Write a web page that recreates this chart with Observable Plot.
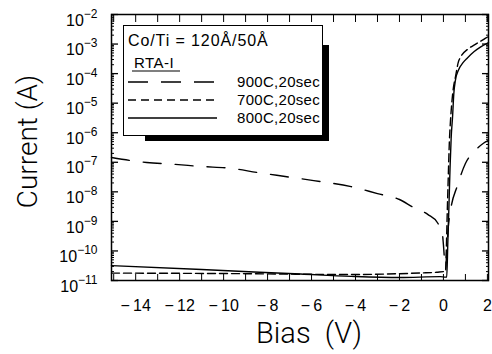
<!DOCTYPE html>
<html><head><meta charset="utf-8">
<script src="https://cdn.jsdelivr.net/npm/d3@7"></script>
<script src="https://cdn.jsdelivr.net/npm/@observablehq/plot@0.6"></script>
<style>
html,body{margin:0;padding:0;background:#fff;}
#wrap{position:relative;width:492px;height:354px;overflow:hidden;}
.sh{position:absolute;background:#000;}
#shR{left:322px;top:45px;width:7px;height:96px;}
#shB{left:145px;top:135px;width:184px;height:6px;}
#box{position:absolute;left:123px;top:25px;width:198px;height:109px;border:1.3px solid #000;background:#fff;}
#legend{position:absolute;left:118px;top:20px;}
svg text{white-space:pre;}
</style></head>
<body><div id="wrap"><div id="chart"></div>
<div class="sh" id="shR"></div><div class="sh" id="shB"></div><div id="box"></div>
<svg id="legend" width="225" height="130" font-family="Liberation Sans, Arial, sans-serif"></svg>
</div>
<script>
// ---- data ----
const volts900 = [-15.1, -13.5, -12.2, -11.0, -9.7, -8.45, -7.2, -5.9, -4.2, -3.0, -2.0, -1.36, -0.7, -0.27, -0.05, 0.0, 0.05, 0.1, 0.15, 0.22, 0.32, 0.64, 1.0, 1.45, 1.82, 2.05];
const amps900  = [1.45e-7, 9.8e-8, 8.5e-8, 7.2e-8, 6.3e-8, 4.5e-8, 3.3e-8, 2.4e-8, 1.5e-8, 8.7e-9, 5.5e-9, 2.95e-9, 1.7e-9, 9e-10, 3.9e-10, 1.6e-10, 5e-11, 2.5e-11, 1e-10, 6.3e-10, 2.3e-9, 1.66e-8, 9.1e-8, 2.5e-7, 4.4e-7, 5.5e-7];
const volts700 = [-15.1, -12.0, -9.0, -6.0, -4.0, -2.0, -1.0, -0.3, 0.0, 0.05, 0.1, 0.13, 0.17, 0.22, 0.27, 0.32, 0.38, 0.45, 0.55, 0.68, 0.77, 1.14, 1.45, 1.9, 2.05];
const amps700  = [1.78e-11, 1.75e-11, 1.7e-11, 1.62e-11, 1.6e-11, 1.7e-11, 1.8e-11, 1.9e-11, 2.0e-11, 2.0e-11, 2e-11, 1e-10, 1.6e-9, 3.2e-8, 5e-7, 2.5e-6, 1e-5, 3.2e-5, 7.9e-5, 2.5e-4, 3.5e-4, 7e-4, 9.8e-4, 1.55e-3, 1.8e-3];
const volts800 = [-15.1, -11.0, -6.5, -4.2, -2.0, -0.15, 0.1, 0.15, 0.2, 0.25, 0.3, 0.35, 0.42, 0.47, 0.55, 0.68, 0.9, 1.09, 1.4, 1.68, 2.05];
const amps800  = [3.2e-11, 2.35e-11, 1.65e-11, 1.38e-11, 1.26e-11, 1.35e-11, 1.3e-11, 1.3e-11, 2e-10, 3.2e-9, 6.3e-8, 6.3e-7, 4e-6, 2e-5, 6.3e-5, 1.3e-4, 2.4e-4, 3.4e-4, 5.6e-4, 7.9e-4, 1.12e-3];
const yMajor = [1e-11, 1e-10, 1e-9, 1e-8, 1e-7, 1e-6, 1e-5, 1e-4, 1e-3, 1e-2];
const xLabels = [-14, -12, -10, -8, -6, -4, -2, 0, 2];
const xTicks = [-15, -14, -13, -12, -11, -10, -9, -8, -7, -6, -5, -4, -3, -2, -1, 0, 1, 2];
const legendItems = ["900C,20sec", "700C,20sec", "800C,20sec"];
const legendDash = ["20,13", "8,5", null];
const legendTitle = "Co/Ti = 120Å/50Å";
const legendSub = "RTA-I";
const xTitle = "Bias\u00a0\u00a0(V)";
const yTitle = "Current (A)";

const yMinor = [];
for (const m of yMajor.slice(0, -1)) for (let k = 2; k <= 9; k++) yMinor.push(m * k);

const zip = (xs, ys) => xs.map((v, i) => ({v, a: ys[i]}));
const d900 = zip(volts900, amps900), d700 = zip(volts700, amps700), d800 = zip(volts800, amps800);

const fmtX = d => d < 0 ? "\u2212\u2009" + (-d) : String(d);

const plot = Plot.plot({
  width: 492, height: 354,
  marginLeft: 111, marginRight: 4, marginTop: 14, marginBottom: 74,
  style: {fontFamily: "Liberation Sans, Arial, sans-serif", background: "#fff", color: "#000"},
  x: {domain: [-15.1, 2.05]},
  y: {type: "log", domain: [1e-11, 1e-2]},
  marks: [
    Plot.line(d900, {x: "v", y: "a", stroke: "#000", strokeWidth: 1.4, strokeDasharray: "18,14", curve: "monotone-x"}),
    Plot.line(d700, {x: "v", y: "a", stroke: "#000", strokeWidth: 1.4, strokeDasharray: "8,4", curve: "monotone-x"}),
    Plot.line(d800, {x: "v", y: "a", stroke: "#000", strokeWidth: 1.4, curve: "monotone-x"}),
    Plot.frame({stroke: "#000", strokeWidth: 1.5}),
    // y tick labels
    Plot.axisY({anchor: "left", ticks: yMajor, tickSize: 0, tickPadding: 14, fontSize: 16, dy: 6,
      tickFormat: d => "10^" + Math.round(Math.log10(d)), label: null}),
    // inward ticks
    Plot.axisY({anchor: "left", ticks: yMajor, tickSize: -7, tickFormat: () => "", label: null, strokeWidth: 1.3}),
    Plot.axisY({anchor: "left", ticks: yMinor, tickSize: -3, tickFormat: () => "", label: null}),
    Plot.axisY({anchor: "right", ticks: yMajor, tickSize: -7, tickFormat: () => "", label: null, strokeWidth: 1.3}),
    Plot.axisY({anchor: "right", ticks: yMinor, tickSize: -3, tickFormat: () => "", label: null}),
    Plot.axisX({anchor: "bottom", ticks: xLabels, tickSize: 0, tickPadding: 19, fontSize: 16, tickFormat: fmtX, label: null}),
    Plot.axisX({anchor: "bottom", ticks: xTicks, tickSize: -6, tickFormat: () => "", label: null}),
    Plot.axisX({anchor: "top", ticks: xTicks, tickSize: -7, tickFormat: () => "", label: null}),
    Plot.text([xTitle], {frameAnchor: "bottom", dx: 9, dy: 62, fontSize: 29, fontWeight: 300, fontFamily: "Roboto, Liberation Sans, sans-serif"}),
    Plot.text([yTitle], {frameAnchor: "left", textAnchor: "middle", lineAnchor: "middle", dx: -83, dy: -6, rotate: -90, fontSize: 28, fontWeight: 300, fontFamily: "Roboto, Liberation Sans, sans-serif"})
  ]
});
document.getElementById("chart").appendChild(plot);

// superscript exponents on the y tick labels
plot.querySelectorAll('g[aria-label="y-axis tick label"] text').forEach(t => {
  const s = t.textContent;
  if (!s.startsWith("10^")) return;
  const e = s.slice(3).replace("-", "\u2212");
  t.textContent = "";
  const ns = "http://www.w3.org/2000/svg";
  const b = document.createElementNS(ns, "tspan"); b.textContent = "10"; t.appendChild(b);
  const sup = document.createElementNS(ns, "tspan");
  sup.setAttribute("dy", "-8"); sup.setAttribute("font-size", "12"); sup.textContent = e;
  t.appendChild(sup);
});

// legend contents (decoration)
const lg = d3.select("#legend");
lg.append("text").attr("x", 10).attr("y", 26).attr("font-size", 16).attr("letter-spacing", 0.9).text(legendTitle);
lg.append("text").attr("x", 16).attr("y", 48).attr("font-size", 15).attr("letter-spacing", 0.5).text(legendSub);
lg.append("line").attr("x1", 14).attr("x2", 62).attr("y1", 51).attr("y2", 51).attr("stroke", "#000").attr("stroke-width", 1.2);
legendItems.forEach((s, i) => {
  const y = 62 + i * 18;
  const ln = lg.append("line").attr("x1", 10).attr("x2", 99).attr("y1", y).attr("y2", y).attr("stroke", "#000").attr("stroke-width", 1.4);
  if (legendDash[i]) ln.attr("stroke-dasharray", legendDash[i]);
  lg.append("text").attr("x", 119).attr("y", y + 5).attr("font-size", 15).attr("letter-spacing", 0.3).text(s);
});
</script></body></html>
